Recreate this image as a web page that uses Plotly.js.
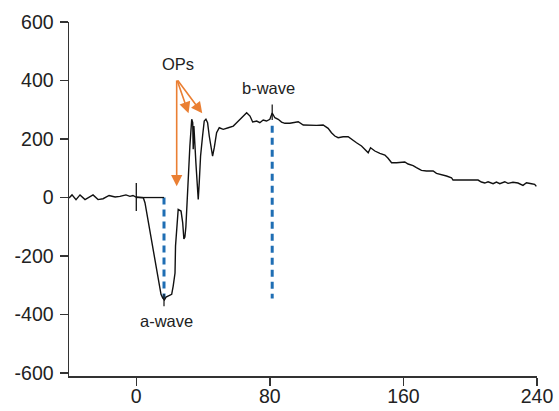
<!DOCTYPE html>
<html>
<head>
<meta charset="utf-8">
<script src="https://cdn.plot.ly/plotly-3.0.1.min.js"></script>
<style>
  html, body { margin: 0; padding: 0; background: #ffffff; }
  #chart { width: 559px; height: 411px; }
</style>
</head>
<body>
<div id="chart"></div>
<script>
// ERG recording: time (ms) and amplitude (µV)
const timeMs = [
  -40.3, -38.5, -36.1, -33.7, -30.7, -27.7, -25.9, -22.9, -19.9, -16.3, -12.7, -9.8, -6.2, -3.8, -2.0, -0.2, 2.2, 4.2,
  5.2, 6.2, 7.6, 8.8, 9.6, 10.8, 11.8, 12.8, 13.8, 14.8, 15.8, 16.8, 17.8, 19.0, 21.2, 22.1, 23.2, 23.5,
  24.5, 25.1, 26.8, 27.8, 28.5, 29.1, 29.7, 30.5, 31.1, 32.1, 33.2, 33.8, 34.1, 34.5, 35.7, 36.5, 37.1, 37.7,
  38.5, 39.7, 40.7, 41.7, 42.7, 43.7, 44.7, 45.7, 46.7, 48.1, 49.7, 52.1, 55.1, 58.1, 60.1, 63.1, 65.1, 66.1,
  68.1, 69.7, 72.1, 74.0, 76.0, 78.0, 80.0, 81.4, 83.0, 85.0, 87.0, 89.0, 92.0, 95.0, 97.0, 100.0, 104.0,
  108.0, 111.9, 114.9, 116.9, 118.9, 120.9, 123.9, 126.9, 128.9, 131.9, 134.9, 137.9, 138.9, 140.3, 142.9,
  145.9, 148.9, 150.8, 152.9, 155.9, 158.8, 160.8, 162.8, 165.8, 167.8, 170.8, 173.8, 177.8, 179.8, 182.8,
  185.8, 188.8, 189.7, 195.7, 204.7, 206.7, 208.7, 210.7, 213.7, 215.7, 217.7, 220.7, 222.6, 225.6, 228.6,
  231.6, 233.7, 236.7, 238.6, 239.6
];
const amplitudeUv = [
  -1.7, 9.0, -7.0, 9.0, -7.0, 1.7, 9.0, -7.0, -4.0, 7.0, 1.7, 4.0, 9.0, 4.0, 7.0, 1.7, 1.7, -0.7,
  -17.8, -52.0, -86.2, -131.6, -165.8, -200.0, -234.2, -268.4, -302.6, -330.9, -342.6, -350.4, -340.2, -336.8, -330.9, -302.6, -258.1, -165.8,
  -86.2, -40.3, -46.2, -86.2, -141.9, -135.0, -100.9, 5.1, 73.5, 176.1, 267.4, 255.7, 164.8, 244.4, 119.0, 28.0, -6.2, 50.6,
  141.9, 210.3, 261.5, 267.4, 255.7, 210.3, 176.1, 141.9, 170.3, 221.5, 238.6, 233.2, 238.6, 244.4, 255.7, 272.8, 284.4, 289.9,
  278.6, 258.1, 261.5, 255.7, 265.0, 261.5, 267.4, 288.9, 272.8, 267.4, 258.1, 253.7, 253.7, 258.1, 259.1, 247.9, 246.8,
  246.8, 247.9, 236.6, 221.5, 210.3, 204.4, 207.9, 207.9, 199.0, 187.4, 176.1, 161.4, 153.2, 170.3, 159.0,
  151.1, 145.3, 134.0, 119.0, 119.0, 119.0, 121.4, 114.5, 109.4, 102.6, 93.0, 90.6, 90.6, 82.7, 79.3,
  73.5, 67.7, 59.8, 59.8, 59.8, 53.0, 49.6, 54.0, 47.2, 53.0, 47.2, 54.0, 48.5, 52.0, 49.6,
  41.7, 50.6, 47.2, 45.1, 38.3
];

// Marker segments
const stimX = [0, 0], stimY = [50, -46];
const baselineX = [0, 16.6], baselineY = [0, 0];
const aTickX = [16.6, 16.6], aTickY = [-330, -372];
const bTickX = [81.4, 81.4], bTickY = [318, 265];

// Amplitude measurement lines
const aWaveX = [16.6, 16.6], aWaveY = [0, -345];
const bWaveX = [81.4, 81.4], bWaveY = [245, -345];

// Labels
const labelText = ['OPs', 'b-wave', 'a-wave'];
const labelX = [25, 79, 17.8];
const labelY = [456, 374, -422];

// OP arrows: tail and tips
const opTail = [24.2, 405];
const opTipX = [24.2, 31.3, 39.5];
const opTipY = [39, 288, 288];

// Axis ticks
const xTicks = [0, 80, 160, 240];
const yTicks = [-600, -400, -200, 0, 200, 400, 600];
const yTickLabels = ['-600', '-400', '-200', '0', '200', '400', '600'];

const black = '#111111';
const blue = '#1f6eb4';
const orange = '#ea7f33';

const seg = (x, y, color, width, dash) => ({
  x: x, y: y, type: 'scatter', mode: 'lines', hoverinfo: 'skip', showlegend: false,
  line: { color: color, width: width, dash: dash || 'solid' }
});

const traces = [
  seg(aWaveX, aWaveY, blue, 3, '7px,5px'),
  seg(bWaveX, bWaveY, blue, 3, '7px,5px'),
  seg(timeMs, amplitudeUv, black, 1.4),
  seg(stimX, stimY, black, 1.3),
  seg(baselineX, baselineY, black, 1.3),
  seg(aTickX, aTickY, black, 1.2),
  seg(bTickX, bTickY, black, 1.2)
];

const annotations = [];
for (let i = 0; i < labelText.length; i++) {
  annotations.push({
    x: labelX[i], y: labelY[i], xref: 'x', yref: 'y', text: labelText[i], showarrow: false,
    font: { family: 'Liberation Sans, Arial, sans-serif', size: 16.5, color: '#222222' },
    xanchor: 'center', yanchor: 'middle'
  });
}
for (let i = 0; i < opTipX.length; i++) {
  annotations.push({
    x: opTipX[i], y: opTipY[i], xref: 'x', yref: 'y',
    ax: opTail[0], ay: opTail[1], axref: 'x', ayref: 'y',
    text: '', showarrow: true, arrowhead: 2, arrowsize: 1.4, arrowwidth: 1.6, arrowcolor: orange
  });
}

const axisFont = { family: 'Liberation Sans, Arial, sans-serif', size: 19.5, color: '#222222' };

const layout = {
  width: 559, height: 411,
  margin: { l: 69, r: 22, t: 22, b: 35, pad: 0 },
  paper_bgcolor: '#ffffff', plot_bgcolor: '#ffffff',
  showlegend: false,
  xaxis: {
    range: [-40.3, 240], tickvals: xTicks, ticks: 'outside', ticklen: 8, tickwidth: 1.5, tickcolor: '#333333',
    showline: true, linecolor: '#333333', linewidth: 1.5, showgrid: false, zeroline: false,
    tickfont: axisFont, automargin: false, ticklabelstandoff: -6
  },
  yaxis: {
    range: [-610, 600], tickvals: yTicks, ticktext: yTickLabels, ticks: 'outside', ticklen: 8, tickwidth: 1.5, tickcolor: '#333333',
    showline: true, linecolor: '#333333', linewidth: 1.5, showgrid: false, zeroline: false,
    tickfont: axisFont, automargin: false, ticklabelstandoff: 2
  },
  annotations: annotations
};

Plotly.newPlot('chart', traces, layout, { staticPlot: true, displayModeBar: false });
</script>
</body>
</html>
